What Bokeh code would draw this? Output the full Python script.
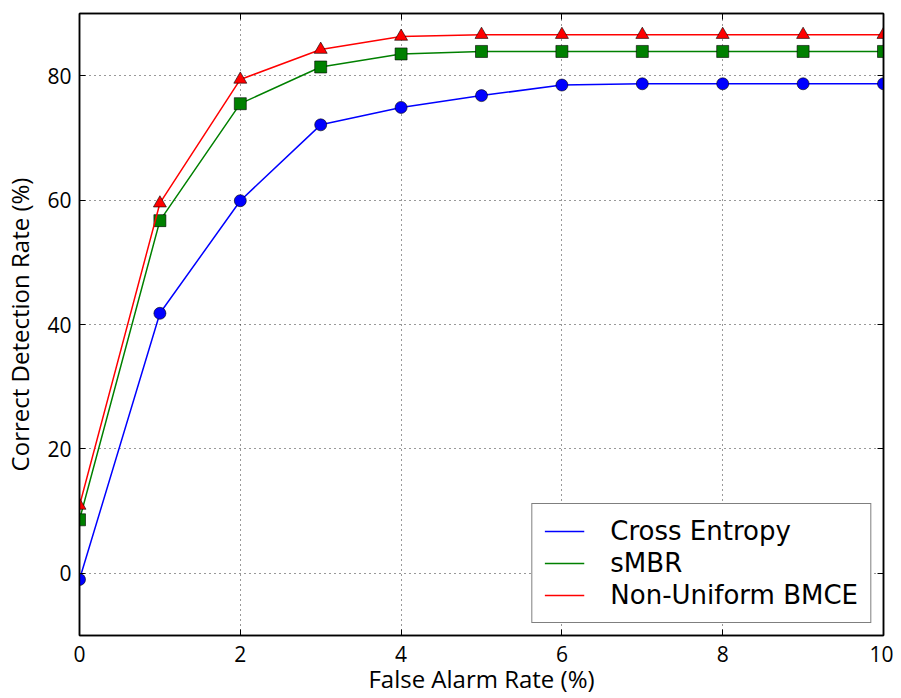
from bokeh.plotting import figure
from bokeh.models import LinearAxis, Legend, LegendItem, FixedTicker, Range1d
from bokeh.embed import file_html
from bokeh.resources import INLINE

x = [0, 1, 2, 3, 4, 5, 6, 7, 8, 9, 10]
cross_entropy = [-1.0, 41.8, 59.9, 72.1, 74.9, 76.8, 78.5, 78.7, 78.7, 78.7, 78.7]
smbr = [8.6, 56.7, 75.5, 81.4, 83.5, 83.9, 83.9, 83.9, 83.9, 83.9, 83.9]
bmce = [10.9, 59.5, 79.4, 84.2, 86.3, 86.6, 86.6, 86.6, 86.6, 86.6, 86.6]
x_ticks = [0, 2, 4, 6, 8, 10]
y_ticks = [0, 20, 40, 60, 80]
labels = ["Cross Entropy", "sMBR", "Non-Uniform BMCE"]

FONT = "Open Sans"

p = figure(width=893, height=698, output_backend="svg", toolbar_location=None,
           x_range=Range1d(0, 10), y_range=Range1d(-10, 90),
           min_border_left=79, min_border_right=10, min_border_top=13, min_border_bottom=63)
p.outline_line_color = "black"
p.outline_line_width = 1.5
p.background_fill_color = "white"
p.border_fill_color = "white"

for ax in [p.xaxis[0], p.yaxis[0]]:
    ax.axis_line_color = "black"
    ax.axis_line_width = 1.5
    ax.major_tick_in = 6
    ax.major_tick_out = 0
    ax.minor_tick_line_color = None
    ax.major_tick_line_color = "black"
    ax.major_label_text_font = FONT
    ax.major_label_text_font_size = "21px"
    ax.major_label_text_color = "black"
    ax.axis_label_text_font = FONT
    ax.axis_label_text_font_size = "24px"
    ax.axis_label_text_font_style = "normal"
    ax.axis_label_text_color = "black"

p.xaxis[0].ticker = FixedTicker(ticks=x_ticks)
p.yaxis[0].ticker = FixedTicker(ticks=y_ticks)
p.xaxis[0].axis_label = "False Alarm Rate (%)"
p.yaxis[0].axis_label = "Correct Detection Rate (%)"
p.xaxis[0].major_label_standoff = 10
p.xaxis[0].axis_label_standoff = -3
p.yaxis[0].major_label_standoff = 8
p.yaxis[0].axis_label_standoff = 8

top = LinearAxis(ticker=FixedTicker(ticks=x_ticks), major_label_text_font_size="0px",
                 major_tick_in=6, major_tick_out=0, minor_tick_line_color=None,
                 axis_line_color="black", axis_line_width=1.5)
right = LinearAxis(ticker=FixedTicker(ticks=y_ticks), major_label_text_font_size="0px",
                   major_tick_in=6, major_tick_out=0, minor_tick_line_color=None,
                   axis_line_color="black", axis_line_width=1.5)
p.add_layout(top, "above")
p.add_layout(right, "right")
top.major_label_standoff = 0
right.major_label_standoff = 0

for g in p.grid:
    g.grid_line_color = "black"
    g.grid_line_dash = "1 4"
    g.grid_line_width = 1
    g.grid_line_alpha = 0.8
p.xgrid.ticker = FixedTicker(ticks=x_ticks)
p.ygrid.ticker = FixedTicker(ticks=y_ticks)

colors = ["blue", "green", "red"]
markers = ["circle", "square", "triangle"]
series = [cross_entropy, smbr, bmce]
items = []
for s, c, m, lab in zip(series, colors, markers, labels):
    r = p.line(x, s, line_color=c, line_width=1.5)
    p.scatter(x, s, marker=m, size=12 if m != "triangle" else 13, fill_color=c,
              line_color="black", line_width=0.6)
    items.append(LegendItem(label=lab, renderers=[r]))

legend = Legend(items=items, location="bottom_right")
legend.label_text_font = "DejaVu Sans"
legend.label_text_font_size = "26px"
legend.label_text_color = "black"
legend.border_line_color = "black"
legend.border_line_width = 1.5
legend.background_fill_color = "white"
legend.background_fill_alpha = 1
legend.margin = 12
legend.padding = 12
legend.spacing = 2
legend.glyph_width = 40
legend.glyph_height = 30
legend.label_height = 30
legend.label_standoff = 26
p.add_layout(legend, "center")

open("out.html", "w").write(file_html(p, INLINE))
